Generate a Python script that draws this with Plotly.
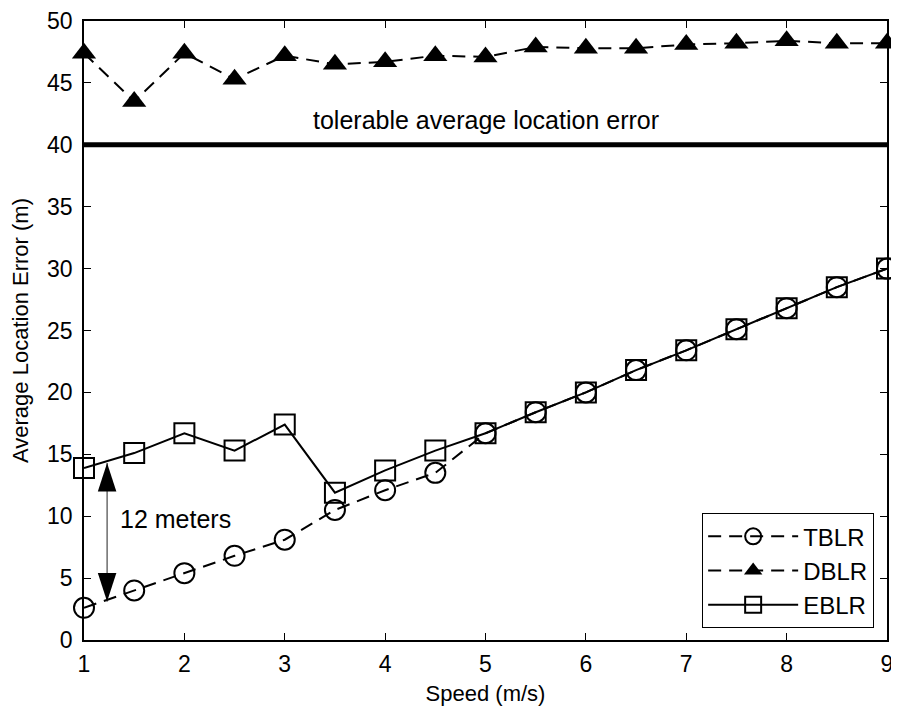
import plotly.graph_objects as go

speed = [1, 1.5, 2, 2.5, 3, 3.5, 4, 4.5, 5, 5.5, 6, 6.5, 7, 7.5, 8, 8.5, 9]
tblr = [2.6, 4.0, 5.4, 6.8, 8.1, 10.5, 12.1, 13.5, 16.7, 18.4, 20.0, 21.8, 23.4, 25.1, 26.8, 28.5, 30.0]
dblr = [47.4, 43.5, 47.4, 45.3, 47.2, 46.5, 46.7, 47.2, 47.1, 47.9, 47.8, 47.8, 48.1, 48.2, 48.4, 48.2, 48.2]
eblr = [13.9, 15.1, 16.7, 15.3, 17.4, 11.9, 13.7, 15.3, 16.7, 18.4, 20.0, 21.8, 23.4, 25.1, 26.8, 28.5, 30.0]
tolerable_x = [1, 9]
tolerable_y = [40, 40]
gap_arrow_x = [1.23, 1.23]
gap_arrow_y = [3.1, 14.3]
x_ticks = [1, 2, 3, 4, 5, 6, 7, 8, 9]
y_ticks = [0, 5, 10, 15, 20, 25, 30, 35, 40, 45, 50]

FONT = "Liberation Sans, Arial, Helvetica, sans-serif"

fig = go.Figure()
fig.add_trace(go.Scatter(
    x=tolerable_x, y=tolerable_y, mode="lines", showlegend=False,
    line=dict(color="black", width=5), hoverinfo="skip", cliponaxis=False))
fig.add_trace(go.Scatter(
    x=speed, y=tblr, mode="lines+markers", name="TBLR",
    line=dict(color="black", width=2, dash="13px,8px"),
    marker=dict(symbol="circle-open", size=20, color="black", line=dict(width=2, color="black")),
    cliponaxis=False))
fig.add_trace(go.Scatter(
    x=speed, y=dblr, mode="lines+markers", name="DBLR",
    line=dict(color="black", width=2, dash="13px,8px"),
    marker=dict(symbol="triangle-up", size=21, color="black"),
    cliponaxis=False))
fig.add_trace(go.Scatter(
    x=speed, y=eblr, mode="lines+markers", name="EBLR",
    line=dict(color="black", width=2),
    marker=dict(symbol="square-open", size=20, color="black", line=dict(width=2, color="black")),
    cliponaxis=False))
# double-headed arrow marking the 12 m gap
fig.add_trace(go.Scatter(
    x=gap_arrow_x, y=gap_arrow_y, mode="lines+markers", showlegend=False, hoverinfo="skip",
    line=dict(color="#222222", width=1),
    marker=dict(symbol="arrow", size=30, angle=[180, 0], color="black", line=dict(width=0)),
    cliponaxis=False))

fig.add_annotation(x=5.0, y=42.0, xref="x", yref="y", text="tolerable average location error",
                   showarrow=False, font=dict(size=25, color="black", family=FONT))
fig.add_annotation(x=1.34, y=9.8, xref="x", yref="y", text="12 meters", xanchor="left",
                   showarrow=False, font=dict(size=25, color="black", family=FONT))

axis_common = dict(
    showline=True, linecolor="black", linewidth=1.5, mirror="ticks",
    ticks="inside", ticklen=7, tickwidth=1, tickcolor="black",
    showgrid=False, zeroline=False,
    tickfont=dict(size=23, color="black", family=FONT),
)
fig.update_xaxes(range=[1, 9], tickvals=x_ticks, ticklabelstandoff=3,
                 title=dict(text="Speed (m/s)", font=dict(size=22, color="black", family=FONT), standoff=9),
                 **axis_common)
fig.update_yaxes(range=[0, 50], tickvals=y_ticks, ticklabelstandoff=5,
                 title=dict(text="Average Location Error (m)", font=dict(size=22, color="black", family=FONT), standoff=13),
                 **axis_common)

# the page body has an 8px default margin: the figure is sized to fill the rest of the window
fig.update_layout(
    width=891, height=705,
    margin=dict(l=76, r=12, t=13, b=73, autoexpand=False),
    paper_bgcolor="white", plot_bgcolor="white",
    font=dict(family=FONT, color="black"),
    legend=dict(x=0.984, y=0.019, xanchor="right", yanchor="bottom",
                bgcolor="white", bordercolor="black", borderwidth=1,
                font=dict(size=24, color="black", family=FONT),
                itemwidth=90, tracegroupgap=0),
)

fig.write_html("out.html")
